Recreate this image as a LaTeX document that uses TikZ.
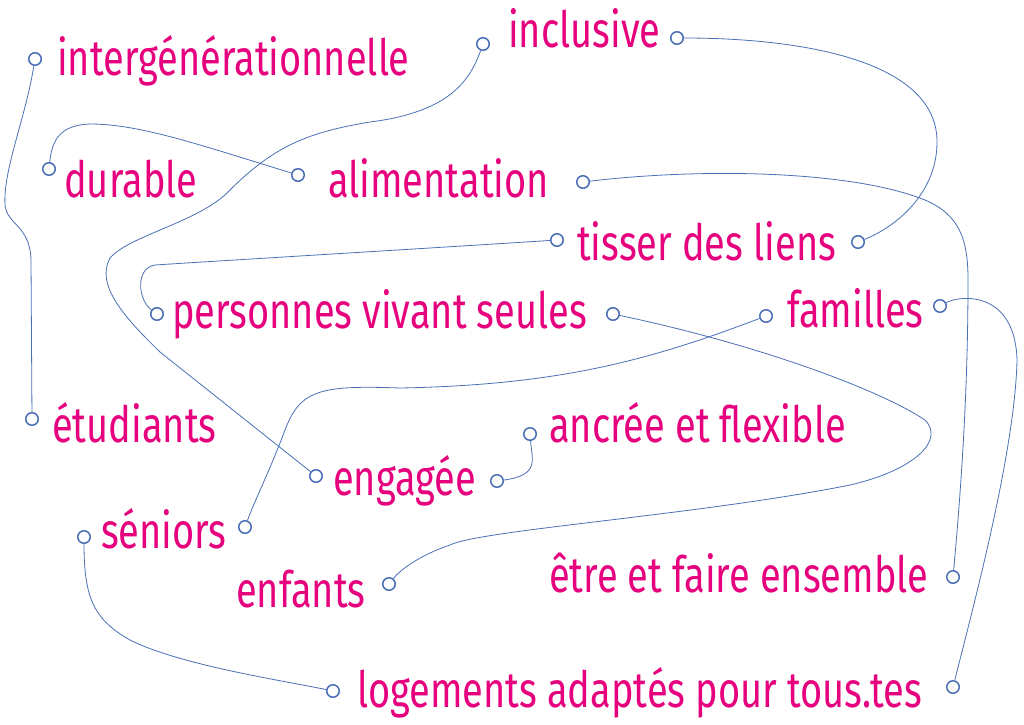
\documentclass[tikz,border=0pt]{standalone}
\usepackage{fontspec}
\setmainfont{Fira Sans}[FakeStretch=0.76]
\definecolor{rose}{HTML}{E6007E}
\definecolor{bleu}{HTML}{4A6FB5}

\begin{document}
\begin{tikzpicture}[x=1pt,y=-1pt,
    dot/.style={circle, draw=bleu, fill=white, line width=1.5pt, minimum size=12.5pt, inner sep=0pt},
    word/.style={anchor=base west, inner sep=0pt, text=rose, font=\fontsize{50}{50}\selectfont},
    link/.style={draw=bleu, line width=0.8pt}]
    \useasboundingbox (0,0) rectangle (1024,724);
    % labels
    \node[word] (tig) at (57,75) {intergénérationnelle};
    \node[word] (tinc) at (508,47) {inclusive};
    \node[word] (tdur) at (64,197) {durable};
    \node[word] (tali) at (328,197) {alimentation};
    \node[word] (ttis) at (577,260) {tisser des liens};
    \node[word] (tper) at (172,328) {personnes vivant seules};
    \node[word] (tfam) at (787,327) {familles};
    \node[word] (tetu) at (52,442) {étudiants};
    \node[word] (tanc) at (549,442) {ancrée et flexible};
    \node[word] (teng) at (333,495) {engagée};
    \node[word] (tsen) at (101,548) {séniors};
    \node[word] (tenf) at (236,607) {enfants};
    \node[word] (tetr) at (549,592) {être et faire ensemble};
    \node[word] (tlog) at (357,707) {logements adaptés pour tous.tes};
    % circles
    \node[dot] (igL) at (35,59) {};
    \node[dot] (incL) at (483,44) {};
    \node[dot] (incR) at (677,38) {};
    \node[dot] (durL) at (49,169) {};
    \node[dot] (aliL) at (298,175) {};
    \node[dot] (aliR) at (583,182) {};
    \node[dot] (tisL) at (557,240) {};
    \node[dot] (tisR) at (858,242) {};
    \node[dot] (perL) at (157,314) {};
    \node[dot] (perR) at (613,314) {};
    \node[dot] (famL) at (766,316) {};
    \node[dot] (famR) at (940,306) {};
    \node[dot] (etuL) at (32,419) {};
    \node[dot] (ancL) at (530,434) {};
    \node[dot] (engL) at (316,476) {};
    \node[dot] (engR) at (497,481) {};
    \node[dot] (senL) at (84,537) {};
    \node[dot] (senR) at (245,527) {};
    \node[dot] (enfR) at (389,584) {};
    \node[dot] (etrR) at (953,577) {};
    \node[dot] (logL) at (333,691) {};
    \node[dot] (logR) at (953,687) {};
    % connectors
    \path[link] (igL) .. controls (25,120) and (3,170) .. (5,205)
        .. controls (7,225) and (30,225) .. (31,260) -- (etuL);
    \path[link] (incL) .. controls (470,80) and (450,112) .. (370,122)
        .. controls (310,132) and (275,145) .. (230,190)
        .. controls (200,222) and (130,235) .. (110,258)
        .. controls (95,285) and (125,318) .. (160,352) -- (engL);
    \path[link] (durL) .. controls (52,140) and (60,125) .. (90,124)
        .. controls (140,124) and (200,145) .. (aliL);
    \path[link] (aliR) .. controls (700,168) and (850,170) .. (925,200)
        .. controls (960,215) and (968,240) .. (968,280)
        .. controls (968,400) and (960,500) .. (etrR);
    \path[link] (tisL) .. controls (400,250) and (200,262) .. (155,265)
        .. controls (135,268) and (138,300) .. (perL);
    \path[link] (incR) .. controls (800,38) and (935,60) .. (937,140)
        .. controls (938,190) and (900,225) .. (tisR);
    \path[link] (perR) .. controls (760,345) and (880,390) .. (925,420)
        .. controls (945,440) and (915,470) .. (850,485)
        .. controls (700,515) and (480,530) .. (450,545)
        .. controls (420,555) and (400,570) .. (enfR);
    \path[link] (famL) .. controls (650,360) and (560,385) .. (400,388)
        .. controls (320,385) and (300,390) .. (285,430)
        .. controls (270,470) and (255,500) .. (senR);
    \path[link] (famR) .. controls (960,295) and (1015,290) .. (1017,360)
        .. controls (1015,450) and (975,600) .. (logR);
    \path[link] (engR) .. controls (540,475) and (532,460) .. (ancL);
    \path[link] (senL) .. controls (84,600) and (95,620) .. (130,640)
        .. controls (180,665) and (280,680) .. (logL);
\end{tikzpicture}
\end{document}
